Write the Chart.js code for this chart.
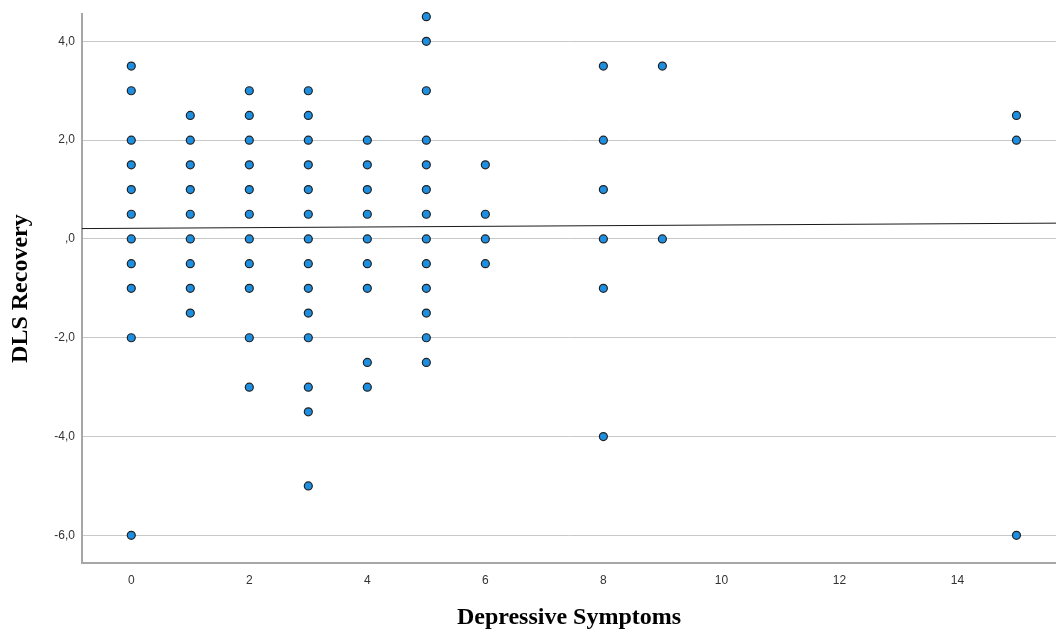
<!DOCTYPE html>
<html>
<head>
<meta charset="utf-8">
<script src="https://cdn.jsdelivr.net/npm/chart.js@4/dist/chart.umd.min.js"></script>
<style>
  body { margin: 0; background: #fff; }
  #wrap { width: 1056px; height: 632px; }
</style>
</head>
<body>
<div id="wrap"><canvas id="scatter"></canvas></div>
<script>
// depressive symptoms score -> DLS recovery values
const symptoms = [
    0,0,0,0,0,0,0,0,0,0,0,
    1,1,1,1,1,1,1,1,1,
    2,2,2,2,2,2,2,2,2,2,2,
    3,3,3,3,3,3,3,3,3,3,3,3,3,3,
    4,4,4,4,4,4,4,4,4,
    5,5,5,5,5,5,5,5,5,5,5,5,5,
    6,6,6,6,
    8,8,8,8,8,8,
    9,9,
    15,15,15
];
const recovery = [
    3.5,3.0,2.0,1.5,1.0,0.5,0.0,-0.5,-1.0,-2.0,-6.0,
    2.5,2.0,1.5,1.0,0.5,0.0,-0.5,-1.0,-1.5,
    3.0,2.5,2.0,1.5,1.0,0.5,0.0,-0.5,-1.0,-2.0,-3.0,
    3.0,2.5,2.0,1.5,1.0,0.5,0.0,-0.5,-1.0,-1.5,-2.0,-3.0,-3.5,-5.0,
    2.0,1.5,1.0,0.5,0.0,-0.5,-1.0,-2.5,-3.0,
    4.5,4.0,3.0,2.0,1.5,1.0,0.5,0.0,-0.5,-1.0,-1.5,-2.0,-2.5,
    1.5,0.5,0.0,-0.5,
    3.5,2.0,1.0,0.0,-1.0,-4.0,
    3.5,0.0,
    2.5,2.0,-6.0
];

// fit line, from the left axis edge to the right edge
const fitX = [-0.835, 15.67];
const fitY = [0.21, 0.32];

const xTicks = [0, 2, 4, 6, 8, 10, 12, 14];
const yTicks = [-6, -4, -2, 0, 2, 4];
const yTickLabels = ['-6,0', '-4,0', '-2,0', ',0', '2,0', '4,0'];

const ctx = document.getElementById('scatter').getContext('2d');

let points = symptoms.map((x, i) => ({x: x, y: recovery[i]}));
let fitLine = fitX.map((x, i) => ({x: x, y: fitY[i]}));

let tickFont = {family: 'Liberation Sans', size: 12};
let titleFont = {family: 'Liberation Serif', size: 24, weight: 'bold'};

let chart = new Chart(ctx, {
    type: 'scatter',
    data: {
        datasets: [
            {
                label: 'Fit',
                type: 'line',
                data: fitLine,
                borderColor: '#1a1a1a',
                borderWidth: 1,
                pointRadius: 0,
                fill: false,
                order: 0
            },
            {
                label: 'DLS Recovery',
                data: points,
                backgroundColor: '#1e8fe0',
                borderColor: '#222',
                borderWidth: 1.2,
                pointRadius: 4,
                clip: false,
                order: 1
            }
        ]
    },
    options: {
        responsive: true,
        maintainAspectRatio: false,
        animation: false,
        layout: {autoPadding: false, padding: {top: 14, right: 0, left: 0, bottom: 0}},
        plugins: {legend: {display: false}, tooltip: {enabled: false}},
        scales: {
            x: {
                type: 'linear',
                min: fitX[0],
                max: fitX[1],
                afterBuildTicks: (scale) => { scale.ticks = xTicks.map(v => ({value: v})); },
                afterFit: (scale) => { scale.height = 69; },
                grid: {display: false, drawTicks: false},
                border: {display: true, color: '#a6a6a6', width: 2},
                ticks: {color: '#333', font: tickFont, padding: 10, maxRotation: 0},
                title: {display: true, text: 'Depressive Symptoms', color: '#000', font: titleFont, padding: {top: 0, bottom: 0}}
            },
            y: {
                type: 'linear',
                min: -6.56,
                max: 4.55,
                afterBuildTicks: (scale) => { scale.ticks = yTicks.map(v => ({value: v})); },
                afterFit: (scale) => { scale.width = 82; },
                grid: {color: '#c8c8c8', lineWidth: 1, drawTicks: false},
                border: {display: true, color: '#a6a6a6', width: 2},
                ticks: {
                    color: '#333',
                    font: tickFont,
                    padding: 7,
                    callback: (v) => yTickLabels[yTicks.indexOf(v)]
                },
                title: {display: true, text: 'DLS Recovery', color: '#000', font: titleFont, padding: {top: 6, bottom: 0}}
            }
        }
    }
});
</script>
</body>
</html>
